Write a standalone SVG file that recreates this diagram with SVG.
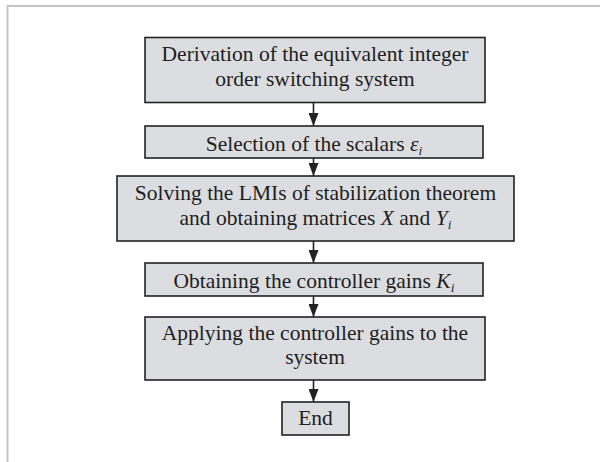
<svg xmlns="http://www.w3.org/2000/svg" width="600" height="462" viewBox="0 0 600 462">
<defs>
<style>
.box{fill:#dcdde0;stroke:#222;stroke-width:1.6}
.t{font-family:"Liberation Serif","Times New Roman",serif;font-size:21.5px;fill:#1e1e1e;text-anchor:middle}
.i{font-style:italic}
.s{font-style:italic;font-size:13.5px}
.c{stroke:#222;stroke-width:1.6;fill:none;marker-end:url(#ah)}
.frame{stroke:#c4c4c4;stroke-width:2;fill:none}
</style>
<marker id="ah" markerWidth="13" markerHeight="10" refX="13" refY="5" orient="auto" markerUnits="userSpaceOnUse">
<path d="M0,0 L13,5 L0,10 Z" fill="#222"/>
</marker>
</defs>
<rect width="600" height="462" fill="#fff"/>
<path class="frame" d="M7.5,462 V6 H600"/>
<g id="connectors">
<line class="c" x1="313.5" y1="102.5" x2="313.5" y2="126"/>
<line class="c" x1="313.5" y1="158" x2="313.5" y2="176"/>
<line class="c" x1="313.5" y1="241" x2="313.5" y2="263"/>
<line class="c" x1="313.5" y1="296" x2="313.5" y2="317"/>
<line class="c" x1="313.5" y1="380" x2="313.5" y2="402"/>
</g>
<g id="n1">
<rect class="box" x="145" y="37.5" width="340" height="65"/>
<text class="t" x="315" y="61">Derivation of the equivalent integer</text>
<text class="t" x="315" y="86">order switching system</text>
</g>
<g id="n2">
<rect class="box" x="145" y="126" width="338" height="32"/>
<text class="t" x="314" y="150.5">Selection of the scalars <tspan class="i">ε</tspan><tspan class="s" dy="4">i</tspan></text>
</g>
<g id="n3">
<rect class="box" x="117" y="176" width="397" height="65"/>
<text class="t" x="315.5" y="200">Solving the LMIs of stabilization theorem</text>
<text class="t" x="315.5" y="225">and obtaining matrices <tspan class="i">X</tspan> and <tspan class="i">Y</tspan><tspan class="s" dy="4">i</tspan></text>
</g>
<g id="n4">
<rect class="box" x="145" y="263" width="338" height="33"/>
<text class="t" x="314" y="288">Obtaining the controller gains <tspan class="i">K</tspan><tspan class="s" dy="4">i</tspan></text>
</g>
<g id="n5">
<rect class="box" x="145" y="317" width="340" height="63"/>
<text class="t" x="315" y="340">Applying the controller gains to the</text>
<text class="t" x="315" y="364">system</text>
</g>
<g id="n6">
<rect class="box" x="282" y="402" width="67" height="33"/>
<text class="t" x="315.5" y="425">End</text>
</g>
</svg>
